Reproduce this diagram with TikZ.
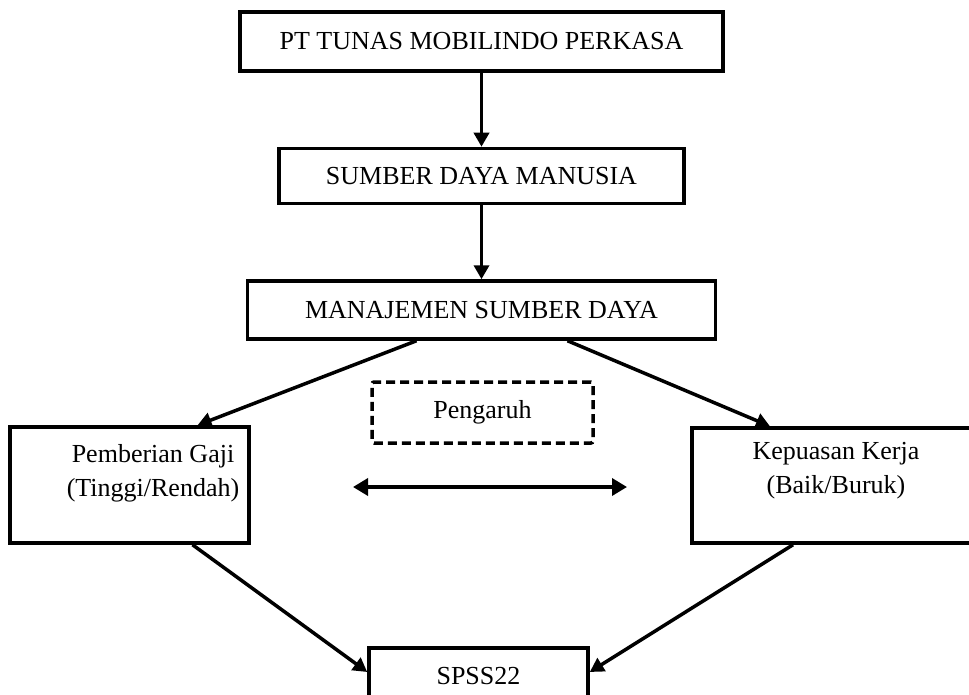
\documentclass[tikz,border=0pt]{standalone}
\usepackage{fontspec}
\setmainfont{Liberation Serif}
\usetikzlibrary{positioning,arrows.meta}

\begin{document}
\begin{tikzpicture}[x=1pt,y=-1pt,
    font=\fontsize{26}{34}\selectfont,
    box/.style={draw, line width=3.5pt, inner sep=0pt},
    flow/.style={line width=3.5pt, -{Triangle[length=14pt,width=15pt]}},
    node distance=74pt]
  \useasboundingbox (0,0) rectangle (969,695);
  \node [box, minimum width=483pt, minimum height=59pt] (pt) at (481.5,41.5) {PT TUNAS MOBILINDO PERKASA};
  \node [box, minimum width=405pt, minimum height=55pt] (sdm) [below=of pt] {SUMBER DAYA MANUSIA};
  \node [box, minimum width=468pt, minimum height=58pt] (msd) [below=of sdm] {MANAJEMEN SUMBER DAYA};
  \node [box, dashed, dash pattern=on 9pt off 5pt, rounded corners=2pt,
         minimum width=221pt, minimum height=61pt] (pengaruh) at (482.5,412.5) {Pengaruh};
  \node [box, minimum width=239pt, minimum height=116pt] (gaji) at (129.5,485) {};
  \node [align=center] (gajitext) at (153,473) {Pemberian Gaji\\(Tinggi/Rendah)};
  \node [box, minimum width=280pt, minimum height=115pt] (kepuasan) at (832,485.5) {};
  \node [align=center] (kepuasantext) at (836,471) {Kepuasan Kerja\\(Baik/Buruk)};
  \node [box, minimum width=219pt, minimum height=56pt] (spss) at (478.5,676) {SPSS22};
  \coordinate (pl) at (353,487);
  \coordinate (pr) at (627,487);
  % alur
  \draw [flow] (pt) -- (sdm);
  \draw [flow] (sdm) -- (msd);
  \draw [flow] ([xshift=-65pt]msd.south) -- ([xshift=68pt]gaji.north);
  \draw [flow] ([xshift=86pt]msd.south) -- ([xshift=-62pt]kepuasan.north);
  \draw [flow] ([xshift=63pt]gaji.south) -- ([yshift=4pt]spss.west);
  \draw [flow] ([xshift=-39pt]kepuasan.south) -- ([yshift=4pt]spss.east);
  \draw [line width=3.5pt, {Triangle[length=15pt,width=17pt]}-{Triangle[length=15pt,width=17pt]}] (pl) -- (pr);
\end{tikzpicture}
\end{document}
